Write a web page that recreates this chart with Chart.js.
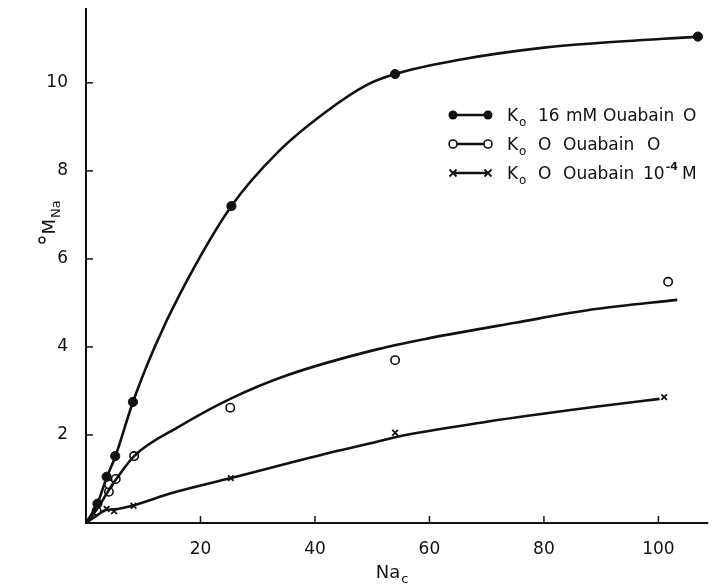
<!DOCTYPE html>
<html>
<head>
<meta charset="utf-8">
<script src="https://cdn.jsdelivr.net/npm/chart.js@4"></script>
<style>
html,body{margin:0;padding:0;background:#fff;}
#wrap{width:714px;height:584px;}
</style>
</head>
<body>
<div id="wrap"><canvas id="c" width="714" height="584"></canvas></div>
<script>
// ---- data ----
const xTicks = [20, 40, 60, 80, 100];
const yTicks = [2, 4, 6, 8, 10];

// measured points
const filledX = [2.0, 3.6, 5.1, 8.2, 25.4, 54, 106.9];
const filledY = [0.44, 1.05, 1.52, 2.75, 7.2, 10.2, 11.05];
const openX = [1.85, 4.0, 4.0, 5.2, 8.4, 25.2, 54, 101.7];
const openY = [0.28, 0.71, 0.88, 1.0, 1.52, 2.62, 3.7, 5.48];
const crossX = [3.6, 4.9, 8.3, 25.3, 54, 101];
const crossY = [0.32, 0.27, 0.39, 1.02, 2.05, 2.86];

// hand-drawn fitted curves
const filledCurveX = [0, 2.0, 3.6, 5.1, 8.2, 12, 16.4, 25.4, 33.7, 42, 49, 54, 65, 80, 89, 106.9];
const filledCurveY = [0, 0.44, 1.03, 1.5, 2.75, 4.0, 5.2, 7.2, 8.45, 9.35, 9.95, 10.2, 10.52, 10.8, 10.9, 11.05];
const openCurveX = [0, 1.9, 4.0, 5.2, 8.4, 16.4, 25.2, 35, 51, 60, 75, 89, 103.3];
const openCurveY = [0, 0.31, 0.75, 0.98, 1.52, 2.2, 2.82, 3.35, 3.95, 4.2, 4.55, 4.86, 5.07];
const crossCurveX = [0, 2.0, 3.6, 5.0, 8.3, 15, 25.3, 44, 51, 54, 70, 89, 100.2];
const crossCurveY = [0, 0.18, 0.3, 0.31, 0.4, 0.68, 1.02, 1.64, 1.85, 1.95, 2.3, 2.64, 2.82];

const legendRest = [
  ["16", "mM", "Ouabain", "O"],
  ["O", "Ouabain", "O"],
  ["O", "Ouabain", "10", "M"]
];

const pts = (xs, ys) => xs.map((x, i) => ({x: x, y: ys[i]}));
const INK = '#111';
const FONT = '"DejaVu Sans", sans-serif';

const curveStyle = {type: 'line', borderColor: INK, borderWidth: 2.6, pointRadius: 0, showLine: true,
  cubicInterpolationMode: 'monotone', fill: false};

const overlay = {
  id: 'overlay',
  afterDraw(chart) {
    const ctx = chart.ctx, a = chart.chartArea;
    const xs = chart.scales.x, ys = chart.scales.y;
    ctx.save();
    ctx.strokeStyle = INK; ctx.fillStyle = INK; ctx.lineWidth = 2;
    // axes
    ctx.beginPath();
    ctx.moveTo(a.left, a.top); ctx.lineTo(a.left, a.bottom); ctx.lineTo(a.right, a.bottom);
    ctx.stroke();
    ctx.lineWidth = 1.5;
    yTicks.forEach(v => { const p = ys.getPixelForValue(v); ctx.beginPath(); ctx.moveTo(a.left, p); ctx.lineTo(a.left + 7, p); ctx.stroke(); });
    xTicks.forEach(v => { const p = xs.getPixelForValue(v); ctx.beginPath(); ctx.moveTo(p, a.bottom); ctx.lineTo(p, a.bottom - 7); ctx.stroke(); });

    // axis titles
    ctx.textBaseline = 'alphabetic';
    ctx.textAlign = 'left';
    // x title: Na_c
    ctx.font = '18px ' + FONT;
    const wNa = ctx.measureText('Na').width;
    const tx = 392 - (wNa + 8) / 2;
    ctx.fillText('Na', tx, 578);
    ctx.font = '13px ' + FONT;
    ctx.fillText('c', tx + wNa + 1, 583);
    // y title: °M_Na rotated
    ctx.save();
    ctx.translate(55, 222);
    ctx.rotate(-Math.PI / 2);
    ctx.font = '18px ' + FONT;
    const wM = ctx.measureText('M').width;
    ctx.font = '13px ' + FONT;
    const wSub = ctx.measureText('Na').width;
    const tot = 9 + wM + wSub + 1;
    let cx = -tot / 2;
    ctx.beginPath(); ctx.lineWidth = 1.4; ctx.arc(cx + 3.5, -13, 3, 0, Math.PI * 2); ctx.stroke();
    cx += 9;
    ctx.font = '18px ' + FONT; ctx.fillText('M', cx, 0); cx += wM + 1;
    ctx.font = '13px ' + FONT; ctx.fillText('Na', cx, 5);
    ctx.restore();

    // legend
    const rows = [115, 144, 173];
    const styles = ['filled', 'open', 'cross'];
    const wordX = [
      [538, 566, 603, 683],
      [538, 563, 647],
      [538, 563, 643, 682]
    ];
    rows.forEach((ry, i) => {
      ctx.lineWidth = 2.6;
      ctx.beginPath(); ctx.moveTo(453, ry); ctx.lineTo(488, ry); ctx.stroke();
      [453, 488].forEach(mx => {
        ctx.lineWidth = 1.6;
        if (styles[i] === 'filled') { ctx.beginPath(); ctx.arc(mx, ry, 4.5, 0, Math.PI * 2); ctx.fill(); }
        else if (styles[i] === 'open') { ctx.beginPath(); ctx.arc(mx, ry, 4, 0, Math.PI * 2); ctx.fillStyle = '#fff'; ctx.fill(); ctx.fillStyle = INK; ctx.stroke(); }
        else { ctx.lineWidth = 1.8; ctx.beginPath(); ctx.moveTo(mx - 3.5, ry - 3.5); ctx.lineTo(mx + 3.5, ry + 3.5); ctx.moveTo(mx + 3.5, ry - 3.5); ctx.lineTo(mx - 3.5, ry + 3.5); ctx.stroke(); }
      });
      const base = ry + 6;
      ctx.font = '17px ' + FONT; ctx.fillText('K', 507, base);
      ctx.font = '12px ' + FONT; ctx.fillText('o', 519, base + 5);
      legendRest[i].forEach((w, j) => {
        ctx.font = '17px ' + FONT;
        ctx.fillText(w, wordX[i][j], base);
        if (i === 2 && w === '10') {
          const ww = ctx.measureText('10').width;
          ctx.font = 'bold 11px ' + FONT;
          ctx.fillText('-4', wordX[i][j] + ww + 1, base - 9);
        }
      });
    });
    ctx.restore();
  }
};

new Chart(document.getElementById('c'), {
  type: 'scatter',
  data: {
    datasets: [
      Object.assign({data: pts(filledCurveX, filledCurveY)}, curveStyle),
      Object.assign({data: pts(openCurveX, openCurveY)}, curveStyle),
      Object.assign({data: pts(crossCurveX, crossCurveY)}, curveStyle),
      {data: pts(filledX, filledY), pointStyle: 'circle', pointRadius: 4.6, backgroundColor: INK, borderColor: INK, borderWidth: 1, showLine: false},
      {data: pts(openX, openY), pointStyle: 'circle', pointRadius: 4.2, backgroundColor: '#fff', borderColor: INK, borderWidth: 1.6, showLine: false},
      {data: pts(crossX, crossY), pointStyle: 'crossRot', pointRadius: 4, borderColor: INK, borderWidth: 1.8, showLine: false}
    ]
  },
  options: {
    responsive: false,
    animation: false,
    events: [],
    layout: {padding: {top: 8, right: 0, left: 0, bottom: 0}},
    plugins: {legend: {display: false}, tooltip: {enabled: false}},
    elements: {line: {tension: 0.4}},
    scales: {
      x: {
        type: 'linear', min: 0, max: 108.7,
        grid: {display: false}, border: {display: false},
        afterBuildTicks: s => { s.ticks = xTicks.map(v => ({value: v})); },
        afterFit: s => { s.height = 61; s.paddingLeft = 0; s.paddingRight = 0; },
        ticks: {color: INK, font: {family: FONT, size: 17}, padding: 8, maxRotation: 0, autoSkip: false}
      },
      y: {
        type: 'linear', min: 0, max: 11.7,
        grid: {display: false}, border: {display: false},
        afterBuildTicks: s => { s.ticks = yTicks.map(v => ({value: v})); },
        afterFit: s => { s.width = 86; s.paddingTop = 0; s.paddingBottom = 0; },
        ticks: {color: INK, font: {family: FONT, size: 17}, padding: 10, autoSkip: false}
      }
    }
  },
  plugins: [overlay]
});
</script>
</body>
</html>
